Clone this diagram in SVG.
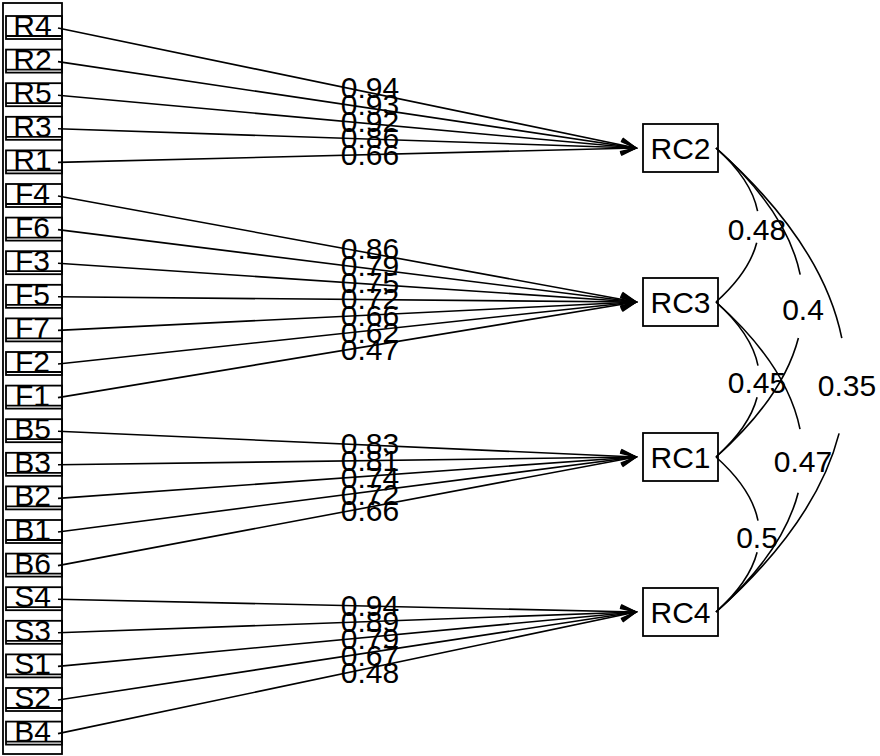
<svg xmlns="http://www.w3.org/2000/svg" width="880" height="756" viewBox="0 0 880 756">
  <style>
    text { font-family: "Liberation Sans", Arial, sans-serif; font-size: 30px; fill: #000; }
    .var text, .fac text { text-anchor: middle; }
    .box { fill: none; stroke: #000; stroke-width: 1.8; }
    .edge { fill: none; stroke: #000; stroke-width: 1.6; }
    .load { text-anchor: middle; }
    .corr { text-anchor: middle; }
    .arrow { marker-end: url(#head); }
  </style>
  <defs>
    <marker id="head" markerUnits="userSpaceOnUse" orient="auto" refX="0" refY="0" markerWidth="20" markerHeight="20" overflow="visible">
      <path d="M-15,-7 L0,0 L-15,7" fill="none" stroke="#000" stroke-width="1.6"/>
    </marker>
  </defs>
  <rect width="880" height="756" fill="#fff"/>

  <!-- variable column frame -->
  <rect class="box" x="3" y="3" width="59" height="751"/>

  <!-- observed variables -->
  <g class="var" id="R4"><rect class="box" x="6" y="16" width="56" height="23"/><line class="box" x1="6" y1="36" x2="62" y2="36"/><text x="32.5" y="36">R4</text></g>
  <g class="var" id="R2"><rect class="box" x="6" y="49.6" width="56" height="23"/><line class="box" x1="6" y1="69.6" x2="62" y2="69.6"/><text x="32.5" y="69.6">R2</text></g>
  <g class="var" id="R5"><rect class="box" x="6" y="83.2" width="56" height="23"/><line class="box" x1="6" y1="103.2" x2="62" y2="103.2"/><text x="32.5" y="103.2">R5</text></g>
  <g class="var" id="R3"><rect class="box" x="6" y="116.8" width="56" height="23"/><line class="box" x1="6" y1="136.8" x2="62" y2="136.8"/><text x="32.5" y="136.8">R3</text></g>
  <g class="var" id="R1"><rect class="box" x="6" y="150.4" width="56" height="23"/><line class="box" x1="6" y1="170.4" x2="62" y2="170.4"/><text x="32.5" y="170.4">R1</text></g>
  <g class="var" id="F4"><rect class="box" x="6" y="184" width="56" height="23"/><line class="box" x1="6" y1="204" x2="62" y2="204"/><text x="32.5" y="204">F4</text></g>
  <g class="var" id="F6"><rect class="box" x="6" y="217.6" width="56" height="23"/><line class="box" x1="6" y1="237.6" x2="62" y2="237.6"/><text x="32.5" y="237.6">F6</text></g>
  <g class="var" id="F3"><rect class="box" x="6" y="251.2" width="56" height="23"/><line class="box" x1="6" y1="271.2" x2="62" y2="271.2"/><text x="32.5" y="271.2">F3</text></g>
  <g class="var" id="F5"><rect class="box" x="6" y="284.8" width="56" height="23"/><line class="box" x1="6" y1="304.8" x2="62" y2="304.8"/><text x="32.5" y="304.8">F5</text></g>
  <g class="var" id="F7"><rect class="box" x="6" y="318.4" width="56" height="23"/><line class="box" x1="6" y1="338.4" x2="62" y2="338.4"/><text x="32.5" y="338.4">F7</text></g>
  <g class="var" id="F2"><rect class="box" x="6" y="352" width="56" height="23"/><line class="box" x1="6" y1="372" x2="62" y2="372"/><text x="32.5" y="372">F2</text></g>
  <g class="var" id="F1"><rect class="box" x="6" y="385.6" width="56" height="23"/><line class="box" x1="6" y1="405.6" x2="62" y2="405.6"/><text x="32.5" y="405.6">F1</text></g>
  <g class="var" id="B5"><rect class="box" x="6" y="419.2" width="56" height="23"/><line class="box" x1="6" y1="439.2" x2="62" y2="439.2"/><text x="32.5" y="439.2">B5</text></g>
  <g class="var" id="B3"><rect class="box" x="6" y="452.8" width="56" height="23"/><line class="box" x1="6" y1="472.8" x2="62" y2="472.8"/><text x="32.5" y="472.8">B3</text></g>
  <g class="var" id="B2"><rect class="box" x="6" y="486.4" width="56" height="23"/><line class="box" x1="6" y1="506.4" x2="62" y2="506.4"/><text x="32.5" y="506.4">B2</text></g>
  <g class="var" id="B1"><rect class="box" x="6" y="520" width="56" height="23"/><line class="box" x1="6" y1="540" x2="62" y2="540"/><text x="32.5" y="540">B1</text></g>
  <g class="var" id="B6"><rect class="box" x="6" y="553.6" width="56" height="23"/><line class="box" x1="6" y1="573.6" x2="62" y2="573.6"/><text x="32.5" y="573.6">B6</text></g>
  <g class="var" id="S4"><rect class="box" x="6" y="587.2" width="56" height="23"/><line class="box" x1="6" y1="607.2" x2="62" y2="607.2"/><text x="32.5" y="607.2">S4</text></g>
  <g class="var" id="S3"><rect class="box" x="6" y="620.8" width="56" height="23"/><line class="box" x1="6" y1="640.8" x2="62" y2="640.8"/><text x="32.5" y="640.8">S3</text></g>
  <g class="var" id="S1"><rect class="box" x="6" y="654.4" width="56" height="23"/><line class="box" x1="6" y1="674.4" x2="62" y2="674.4"/><text x="32.5" y="674.4">S1</text></g>
  <g class="var" id="S2"><rect class="box" x="6" y="688" width="56" height="23"/><line class="box" x1="6" y1="708" x2="62" y2="708"/><text x="32.5" y="708">S2</text></g>
  <g class="var" id="B4"><rect class="box" x="6" y="721.6" width="56" height="23"/><line class="box" x1="6" y1="741.6" x2="62" y2="741.6"/><text x="32.5" y="741.6">B4</text></g>

  <!-- factors -->
  <g class="fac" id="RC2"><rect class="box" x="643" y="124" width="75" height="48"/><text x="680.5" y="159">RC2</text></g>
  <g class="fac" id="RC3"><rect class="box" x="643" y="278" width="75" height="48"/><text x="680.5" y="313">RC3</text></g>
  <g class="fac" id="RC1"><rect class="box" x="643" y="433" width="75" height="48"/><text x="680.5" y="468">RC1</text></g>
  <g class="fac" id="RC4"><rect class="box" x="643" y="588" width="75" height="48"/><text x="680.5" y="623">RC4</text></g>

  <!-- loadings: variable -> factor -->
  <g id="connectors">
    <g class="edge arrow">
      <line x1="58" y1="28" x2="636" y2="148"/>
      <line x1="58" y1="61.6" x2="636" y2="148"/>
      <line x1="58" y1="95.2" x2="636" y2="148"/>
      <line x1="58" y1="128.8" x2="636" y2="148"/>
      <line x1="58" y1="162.4" x2="636" y2="148"/>
      <line x1="58" y1="196" x2="636" y2="302"/>
      <line x1="58" y1="229.6" x2="636" y2="302"/>
      <line x1="58" y1="263.2" x2="636" y2="302"/>
      <line x1="58" y1="296.8" x2="636" y2="302"/>
      <line x1="58" y1="330.4" x2="636" y2="302"/>
      <line x1="58" y1="364" x2="636" y2="302"/>
      <line x1="58" y1="397.6" x2="636" y2="302"/>
      <line x1="58" y1="431.2" x2="636" y2="457"/>
      <line x1="58" y1="464.8" x2="636" y2="457"/>
      <line x1="58" y1="498.4" x2="636" y2="457"/>
      <line x1="58" y1="532" x2="636" y2="457"/>
      <line x1="58" y1="565.6" x2="636" y2="457"/>
      <line x1="58" y1="599.2" x2="636" y2="612"/>
      <line x1="58" y1="632.8" x2="636" y2="612"/>
      <line x1="58" y1="666.4" x2="636" y2="612"/>
      <line x1="58" y1="700" x2="636" y2="612"/>
      <line x1="58" y1="733.6" x2="636" y2="612"/>
    </g>
    <g class="load">
      <text x="370" y="98">0.94</text>
      <text x="370" y="114.8">0.93</text>
      <text x="370" y="131.6">0.92</text>
      <text x="370" y="148.4">0.86</text>
      <text x="370" y="165.2">0.66</text>
      <text x="370" y="259">0.86</text>
      <text x="370" y="275.8">0.79</text>
      <text x="370" y="292.6">0.75</text>
      <text x="370" y="309.4">0.72</text>
      <text x="370" y="326.2">0.66</text>
      <text x="370" y="343">0.62</text>
      <text x="370" y="359.8">0.47</text>
      <text x="370" y="454.1">0.83</text>
      <text x="370" y="470.9">0.81</text>
      <text x="370" y="487.7">0.74</text>
      <text x="370" y="504.5">0.72</text>
      <text x="370" y="521.3">0.66</text>
      <text x="370" y="615.6">0.94</text>
      <text x="370" y="632.4">0.89</text>
      <text x="370" y="649.2">0.79</text>
      <text x="370" y="666">0.67</text>
      <text x="370" y="682.8">0.48</text>
    </g>

    <!-- factor correlations -->
    <g class="edge">
      <path d="M716,148 Q751.3,179.6 757.6,211.1 M756.7,242.7 Q749.1,272.3 716,302"/>
      <path d="M716,148 Q787.3,211.3 800.2,274.7 M798.4,338 Q783,397.5 716,457"/>
      <path d="M716,148 Q822.6,243.1 841.8,338.2 M839.1,433.4 Q816.1,522.7 716,612"/>
      <path d="M716,302 Q751.6,333.8 758,365.6 M757.1,397.3 Q749.4,427.1 716,457"/>
      <path d="M716,302 Q787.2,365.6 800,429.1 M798.2,492.7 Q782.8,552.4 716,612"/>
      <path d="M716,457 Q751.6,488.8 758,520.6 M757.1,552.3 Q749.4,582.1 716,612"/>
    </g>
    <g class="corr">
      <text x="757" y="240">0.48</text>
      <text x="803" y="320">0.4</text>
      <text x="847" y="396">0.35</text>
      <text x="757" y="393">0.45</text>
      <text x="803" y="472">0.47</text>
      <text x="757" y="548">0.5</text>
    </g>
  </g>
</svg>
